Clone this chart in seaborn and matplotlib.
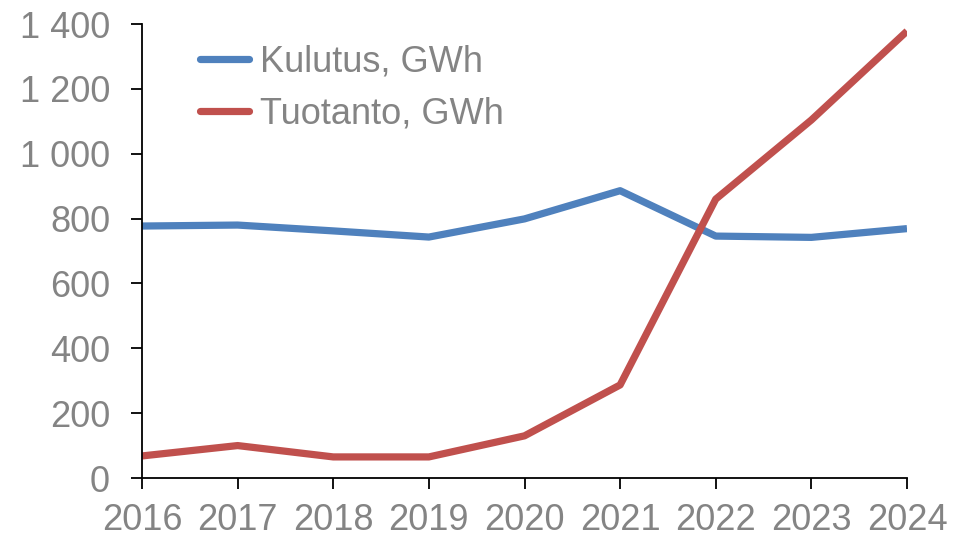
import matplotlib
matplotlib.use("Agg")
import matplotlib.pyplot as plt
from matplotlib.ticker import FuncFormatter, MultipleLocator
import seaborn as sns
import pandas as pd

years = [2016, 2017, 2018, 2019, 2020, 2021, 2022, 2023, 2024]
kulutus = [777, 780, 762, 743, 799, 886, 746, 742, 769]
tuotanto = [68, 100, 65, 65, 130, 287, 860, 1104, 1378]
series_names = ["Kulutus, GWh", "Tuotanto, GWh"]
colors = ["#4F81BD", "#C0504D"]

df = pd.DataFrame({
    "vuosi": years * 2,
    "GWh": kulutus + tuotanto,
    "sarja": [series_names[0]] * len(years) + [series_names[1]] * len(years),
})

sns.set_style("white")
plt.rcParams["font.family"] = ["Liberation Sans", "DejaVu Sans"]

fig = plt.figure(figsize=(9.71, 5.37), dpi=100)
ax = fig.add_axes([142 / 971, 1 - 478 / 537, (907 - 142) / 971, (478 - 24) / 537])

sns.lineplot(data=df, x="vuosi", y="GWh", hue="sarja", palette=colors,
             linewidth=5.2, ax=ax, legend=False)
for line in ax.get_lines():
    line.set_solid_capstyle("butt")
    line.set_solid_joinstyle("round")

ax.set_xlim(2016, 2024)
ax.set_ylim(0, 1400)
ax.yaxis.set_major_locator(MultipleLocator(200))
ax.set_xticks(years)
ax.yaxis.set_major_formatter(FuncFormatter(lambda v, _: f"{int(v):,}".replace(",", " ")))
ax.set_xlabel("")
ax.set_ylabel("")

for side in ["top", "right"]:
    ax.spines[side].set_visible(False)
for side in ["left", "bottom"]:
    ax.spines[side].set_color("black")
    ax.spines[side].set_linewidth(1.3)

tick_gray = "#848484"
ax.tick_params(axis="both", direction="out", length=8, width=1.3, color="black",
               labelsize=26, labelcolor=tick_gray)
ax.tick_params(axis="y", pad=15, left=True)
ax.tick_params(axis="x", pad=10, bottom=True)

handles = [plt.Line2D([], [], color=c, linewidth=5.2, solid_capstyle="round") for c in colors]
leg = fig.legend(handles, series_names, loc="upper left",
                 bbox_to_anchor=(200 / 971, 1 - 45 / 537), bbox_transform=fig.transFigure,
                 frameon=False, fontsize=26, handlelength=1.35, handletextpad=0.3,
                 labelspacing=0.47, borderpad=0, borderaxespad=0)
for t in leg.get_texts():
    t.set_color(tick_gray)

fig.savefig("out.png", dpi=100)
